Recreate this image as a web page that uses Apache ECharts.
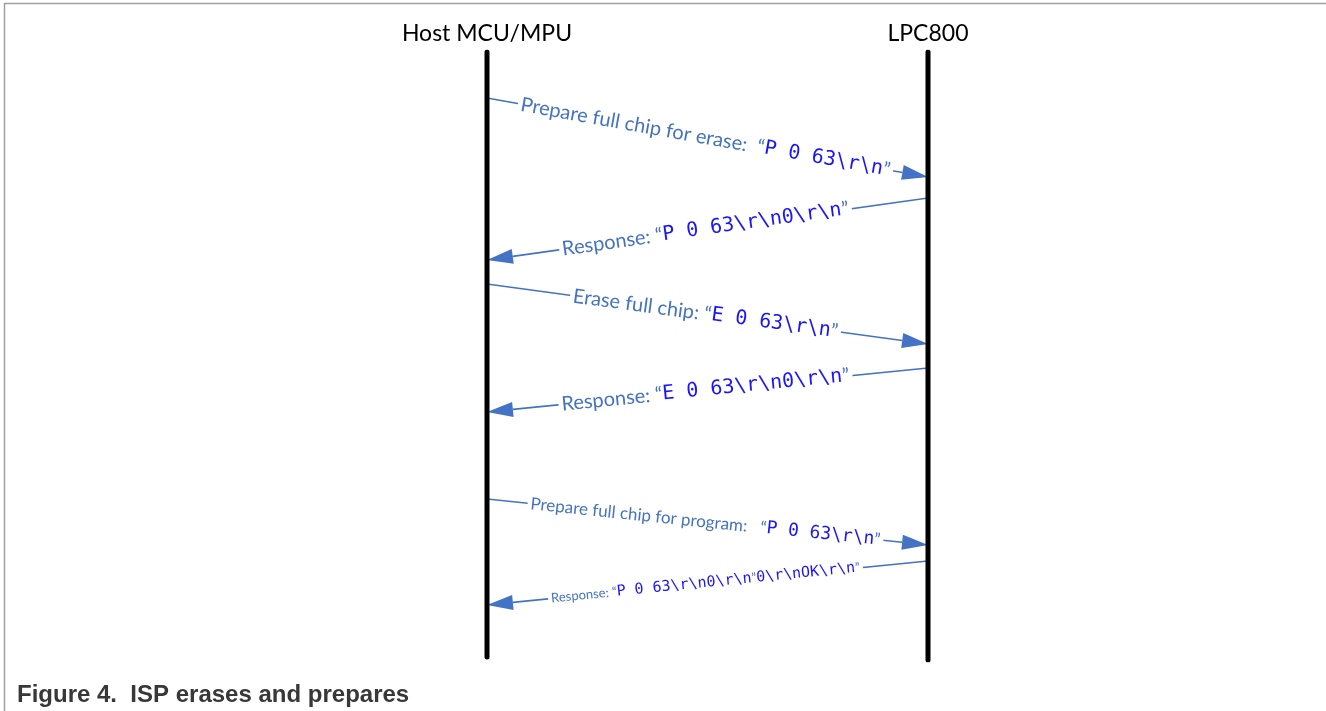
<!DOCTYPE html>
<html>
<head>
<meta charset="utf-8">
<script src="https://cdn.jsdelivr.net/npm/echarts@6/dist/echarts.min.js"></script>
<style>html,body{margin:0;padding:0;background:#fff}#chart{width:1326px;height:711px}</style>
</head>
<body>
<div id="chart"></div>
<script>
// ---- data ----
const lifelines = ['Host MCU/MPU', 'LPC800'];
const lifelineStart = [0, 0];
const lifelineEnd = [605, 608];
// messages: sender index, receiver index, send time, receive time
const msgFrom = [0, 1, 0, 1, 0, 1];
const msgTo = [1, 0, 1, 0, 1, 0];
const msgStart = [46, 146, 232, 316, 447, 509];
const msgEnd = [125, 208, 292, 360, 493, 553];
const msgLabel = ['Prepare full chip for erase:  ', 'Response: ', 'Erase full chip: ', 'Response: ', 'Prepare full chip for program:   ', 'Response: '];
const msgCode = [
  ['P 0 63\\r\\n'],
  ['P 0 63\\r\\n0\\r\\n'],
  ['E 0 63\\r\\n'],
  ['E 0 63\\r\\n0\\r\\n'],
  ['P 0 63\\r\\n'],
  ['P 0 63\\r\\n0\\r\\n', '0\\r\\nOK\\r\\n']
];
const caption = 'Figure 4.  ISP erases and prepares';

// ---- styles (not data) ----
const msgFont = [{t: 20, c: 20}, {t: 20, c: 20}, {t: 20, c: 20}, {t: 20, c: 20}, {t: 17, c: 18}, {t: 13, c: 15}];
const lineColor = '#4472c4';
const codeColor = '#1a14ff';

const chart = echarts.init(document.getElementById('chart'));

const msgData = msgFrom.map((f, i) => [f, msgStart[i], msgTo[i], msgEnd[i]]);

function renderMsg(params, api) {
  const i = params.dataIndex;
  const p0 = api.coord([api.value(0), api.value(1)]);
  const p1 = api.coord([api.value(2), api.value(3)]);
  const dx = p1[0] - p0[0], dy = p1[1] - p0[1];
  const len = Math.sqrt(dx * dx + dy * dy);
  const ux = dx / len, uy = dy / len;
  const hl = 26, hw = 7.5;
  const bx = p1[0] - ux * hl, by = p1[1] - uy * hl;
  const L = p0[0] < p1[0] ? p0 : p1, R = p0[0] < p1[0] ? p1 : p0;
  const ang = Math.atan2(R[1] - L[1], R[0] - L[0]);
  const mx = (p0[0] + p1[0]) / 2 - 2, my = (p0[1] + p1[1]) / 2;
  const fs = msgFont[i];
  let txt = '{a|' + msgLabel[i] + '}{q|\u201C}';
  msgCode[i].forEach((c) => {
    txt += '{c|' + c + '}' + '{q|\u201D}';
  });
  return {
    type: 'group',
    children: [
      {type: 'line', shape: {x1: p0[0], y1: p0[1], x2: bx, y2: by}, style: {stroke: lineColor, lineWidth: 1.6}},
      {type: 'polygon', shape: {points: [[p1[0], p1[1]], [bx - uy * hw, by + ux * hw], [bx + uy * hw, by - ux * hw]]}, style: {fill: lineColor}},
      {type: 'text', x: mx, y: my, rotation: -ang, z2: 10,
        style: {
          text: txt, align: 'center', verticalAlign: 'middle',
          backgroundColor: '#fff', padding: [0, 3],
          rich: {
            a: {fontFamily: 'Lato', fontSize: fs.t, fill: lineColor, color: lineColor},
            q: {fontFamily: 'Lato', fontSize: fs.t, fill: lineColor, color: lineColor},
            c: {fontFamily: 'DejaVu Sans Mono', fontSize: fs.c, fill: codeColor, color: codeColor}
          }
        }}
    ]
  };
}

const lifelineSeries = lifelines.map((name, k) => ({
  type: 'line', silent: true, symbol: 'none', z: 5,
  data: [[name, lifelineStart[k]], [name, lifelineEnd[k]]],
  lineStyle: {color: '#000', width: 5, cap: 'round'}
}));

chart.setOption({
  animation: false,
  backgroundColor: '#fff',
  title: {
    text: caption, left: 12, top: 678,
    textStyle: {fontFamily: 'Liberation Sans', fontSize: 24, fontWeight: 'bold', color: '#383838'}
  },
  graphic: [{
    type: 'polyline', silent: true,
    shape: {points: [[4.5, 711], [4.5, 3.5], [1326, 3.5]]},
    style: {stroke: '#a0a0a0', lineWidth: 1.5, fill: null}
  }],
  grid: {left: 266.5, right: 177.5, top: 52, bottom: 51},
  xAxis: {
    type: 'category', data: lifelines, position: 'top', boundaryGap: true,
    axisLine: {show: false}, axisTick: {show: false}, splitLine: {show: false},
    axisLabel: {fontFamily: 'Lato', fontSize: 23, color: '#000', margin: 7}
  },
  yAxis: {type: 'value', min: 0, max: 608, inverse: true, show: false},
  series: lifelineSeries.concat([{
    type: 'custom', z: 3,
    renderItem: renderMsg,
    encode: {x: [0, 2], y: [1, 3]},
    data: msgData
  }])
});
</script>
</body>
</html>
